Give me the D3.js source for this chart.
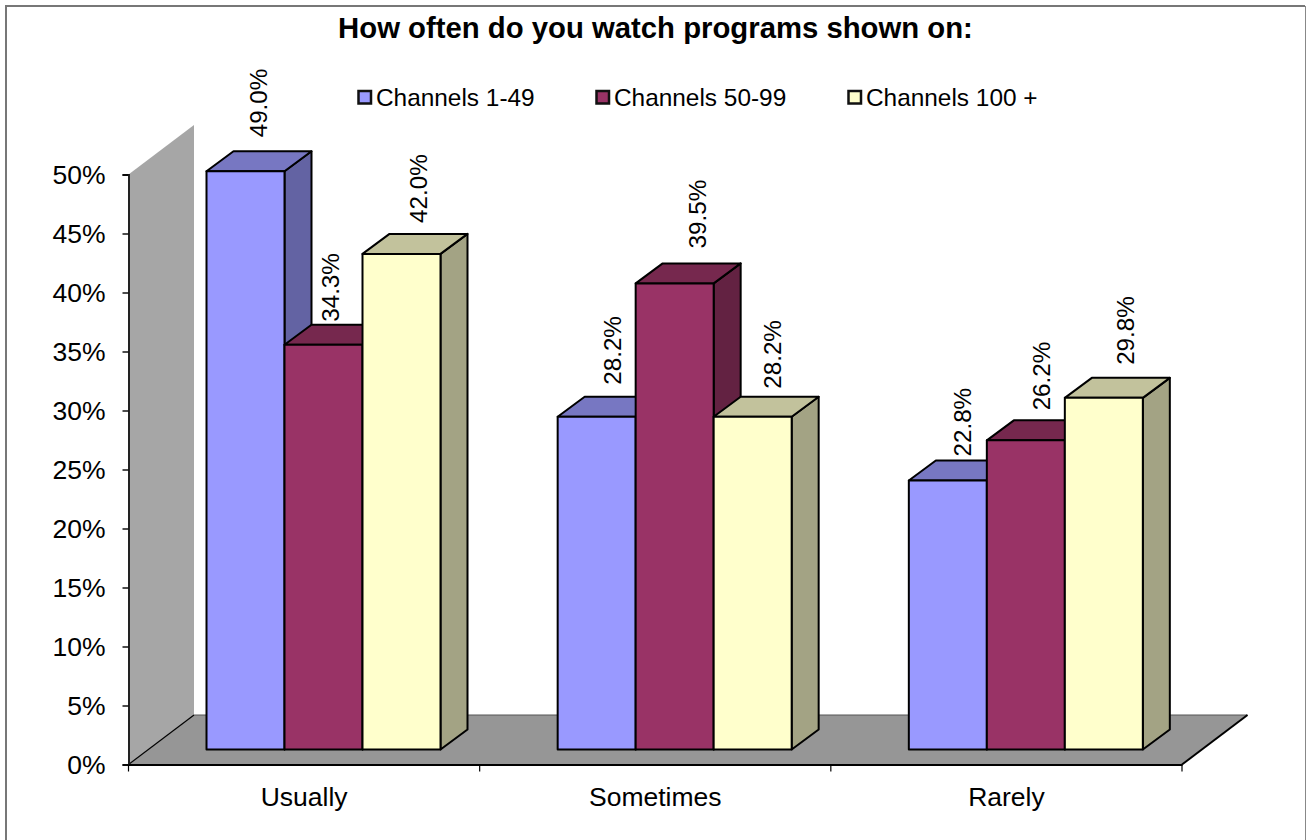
<!DOCTYPE html>
<html><head><meta charset="utf-8">
<script src="https://cdn.jsdelivr.net/npm/d3@7"></script>
<style>html,body{margin:0;padding:0;background:#fff}svg{display:block}text{font-family:"Liberation Sans",Arial,sans-serif;fill:#000}</style>
</head><body><div id="c"></div>
<script>
const titleText = "How often do you watch programs shown on:";
const categories = ["Usually", "Sometimes", "Rarely"];
const seriesNames = ["Channels 1-49", "Channels 50-99", "Channels 100 +"];
const channels1to49 = [49.0, 28.2, 22.8];
const channels50to99 = [34.3, 39.5, 26.2];
const channels100plus = [42.0, 28.2, 29.8];
const yTicks = [0, 5, 10, 15, 20, 25, 30, 35, 40, 45, 50];

// styling
const seriesValues = [channels1to49, channels50to99, channels100plus];
const frontColors = ["#9999FF", "#993366", "#FFFFCC"];
const topColors = ["#7777C2", "#76284E", "#C2C29C"];
const sideColors = ["#6363A3", "#632242", "#A3A384"];
// label nudges [dx, dy] relative to default spot, by series then category
const labelNudge = [[[0,1],[3,3],[2,11]],[[-6,12],[10,0],[3,5]],[[4,4],[7,7],[9,2]]];

const W = 1307, H = 840;
const svg = d3.select("#c").append("svg").attr("width", W).attr("height", H);
// chart frame: open at the bottom, as in the source crop
svg.append("path").attr("d",`M6,${H}V6H1305`).attr("fill","none").attr("stroke","#777").attr("stroke-width",2);
svg.append("path").attr("d",`M1305.5,6V${H}`).attr("fill","none").attr("stroke","#888").attr("stroke-width",1);

const axisLeft = 128.5, axisRight = 1182, floorY = 764.5, topY = 174.5;
const depthX = 65.5, depthY = 49.5;
const barDX = 27, barDY = 20;
const y = d3.scaleLinear().domain([0,50]).range([floorY, topY]);
const x0 = d3.scaleBand().domain(categories).range([axisLeft, axisRight]);
const barW = 78;
const frontOffX = 78, frontBase = 749.5;
const h = v => y(0) - y(v);
const poly = pts => pts.map(p => p.join(",")).join(" ");

// wall
svg.append("polygon").attr("points", poly([[axisLeft,topY],[axisLeft+depthX,topY-depthY],[axisLeft+depthX,floorY-depthY],[axisLeft,floorY]])).attr("fill","#A6A6A6");
// floor
svg.append("polygon").attr("points", poly([[axisLeft,floorY],[axisLeft+depthX,floorY-depthY],[axisRight+depthX,floorY-depthY],[axisRight,floorY]])).attr("fill","#969696");
svg.append("path").attr("d",`M${axisLeft},${floorY}L${axisLeft+depthX},${floorY-depthY}`).attr("stroke","#000").attr("stroke-width",1.2).attr("fill","none");
svg.append("path").attr("d",`M${axisLeft+depthX},${floorY-depthY}H${axisRight+depthX}`).attr("stroke","#555").attr("stroke-width",1).attr("fill","none");
svg.append("path").attr("d",`M${axisRight},${floorY}L${axisRight+depthX},${floorY-depthY}`).attr("stroke","#000").attr("stroke-width",2).attr("fill","none");

// axes
const yAxis = d3.axisLeft(y).tickValues(yTicks).tickSize(6).tickPadding(17).tickFormat(d => d + "%");
const gy = svg.append("g").attr("transform",`translate(${axisLeft},0)`).call(yAxis);
gy.selectAll("text").attr("font-size",26.5).attr("dy","0.34em");
gy.select(".domain").attr("stroke","#222").attr("stroke-width",2);
gy.selectAll("line").attr("stroke","#000").attr("stroke-width",1.4);
const xAxis = d3.axisBottom(x0).tickSize(0).tickPadding(23);
const gx = svg.append("g").attr("transform",`translate(0,${floorY})`).call(xAxis);
gx.selectAll("text").attr("font-size",26.5);
gx.select(".domain").attr("stroke","#000").attr("stroke-width",2);
const edgeTicks = [axisLeft].concat(categories.map(c => x0(c) + x0.bandwidth()));
svg.append("g").selectAll("line").data(edgeTicks).join("line")
  .attr("x1",d=>d).attr("x2",d=>d).attr("y1",floorY).attr("y2",floorY+7).attr("stroke","#000").attr("stroke-width",1.2);

// bars
const bars = svg.append("g").attr("stroke","#000").attr("stroke-width",2).attr("stroke-linejoin","round");
categories.forEach((cat, ci) => {
  const left = x0(cat) + frontOffX;
  seriesValues.forEach((vals, si) => {
    const v = vals[ci];
    const xl = left + si*barW, xr = xl + barW, bot = frontBase, tp = frontBase - h(v);
    bars.append("polygon").attr("points", poly([[xr,tp],[xr+barDX,tp-barDY],[xr+barDX,bot-barDY],[xr,bot]])).attr("fill",sideColors[si]);
    bars.append("polygon").attr("points", poly([[xl,tp],[xl+barDX,tp-barDY],[xr+barDX,tp-barDY],[xr,tp]])).attr("fill",topColors[si]);
    bars.append("rect").attr("x",xl).attr("y",tp).attr("width",barW).attr("height",bot-tp).attr("fill",frontColors[si]);
  });
});

// data labels
categories.forEach((cat, ci) => {
  const left = x0(cat) + frontOffX;
  seriesValues.forEach((vals, si) => {
    const v = vals[ci];
    const n = labelNudge[si][ci];
    const lx = left + si*barW + 52 + n[0];
    const ly = frontBase - h(v) - 35 + n[1];
    svg.append("text").attr("transform",`translate(${lx},${ly}) rotate(-90)`)
      .attr("font-size",24.2).attr("dy","0.35em").text(v.toFixed(1) + "%");
  });
});

// title
svg.append("text").attr("x",655.5).attr("y",38).attr("text-anchor","middle").attr("font-weight","bold").attr("font-size",29.3).text(titleText);

// legend
const legendX = [358.5, 596.5, 848.5];
seriesNames.forEach((s,i) => {
  svg.append("rect").attr("x",legendX[i]).attr("y",91).attr("width",12.5).attr("height",12.5).attr("fill",frontColors[i]).attr("stroke","#111").attr("stroke-width",2.5);
  svg.append("text").attr("x",legendX[i]+17.5).attr("y",105.5).attr("font-size",24.4).text(s);
});
</script></body></html>
